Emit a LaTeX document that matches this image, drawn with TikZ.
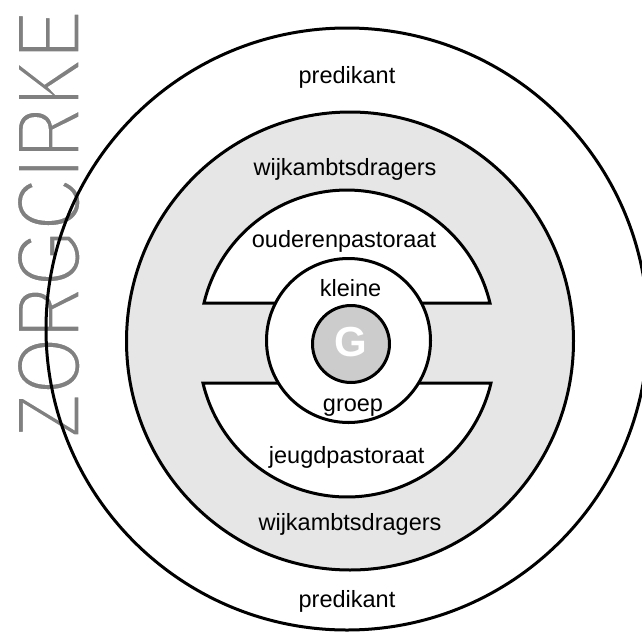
\documentclass[tikz,border=0pt]{standalone}
\usepackage{fontspec}
\setmainfont{Liberation Sans}
\definecolor{ringgray}{HTML}{E6E6E6}
\definecolor{ggray}{HTML}{CCCCCC}
\definecolor{zgray}{HTML}{808080}
\newcommand{\thintext}[1]{\special{pdf:literal direct 2 Tr 1 1 1 RG 3 w}#1\special{pdf:literal direct 0 Tr}}
\begin{document}
\begin{tikzpicture}[x=1pt,y=-1pt,
  ring/.style={draw=black, line width=3pt},
  lbl/.style={font=\fontsize{23.5}{24}\selectfont, inner sep=0, anchor=base}]
\useasboundingbox (0,0) rectangle (642,637);
\begin{scope}
  \clip (0,0) rectangle (642,637);
  \fill[white] (347,329) circle (301);
\end{scope}
\node[rotate=90, anchor=base west, inner sep=0, text=zgray, font=\fontsize{91}{91}\selectfont] (z) at (80,438) {\scalebox{0.79}[1]{\thintext{ZORGCIRKE}}};
\begin{scope}
  \clip (0,0) rectangle (642,637);
  \draw[ring] (347,329) circle (301);
\end{scope}
\filldraw[ring, fill=ringgray] (350,341) ellipse [x radius=223.5, y radius=229];
\filldraw[ring, fill=white] (204,303) arc[start angle=193.4, end angle=346.6, radius=147] -- cycle;
\filldraw[ring, fill=white] (491,383) arc[start angle=13.3, end angle=166.7, radius=148] -- cycle;
\filldraw[ring, fill=white] (348.5,340.5) circle (82);
\filldraw[ring, fill=ggray] (351,344) circle (38.5);
\node[font=\fontsize{42}{42}\selectfont\bfseries, text=white, inner sep=0, anchor=base] (g) at (351,356) {G};
\node[lbl] (p1) at (347,83) {predikant};
\node[lbl] (w1) at (345,175) {wijkambtsdragers};
\node[lbl] (o) at (344,247) {ouderenpastoraat};
\node[lbl] (k) at (350.5,296) {kleine};
\node[lbl] (gr) at (353,411) {groep};
\node[lbl] (j) at (346.7,463) {jeugdpastoraat};
\node[lbl] (w2) at (350,530) {wijkambtsdragers};
\node[lbl] (p2) at (347,607) {predikant};
\end{tikzpicture}
\end{document}
